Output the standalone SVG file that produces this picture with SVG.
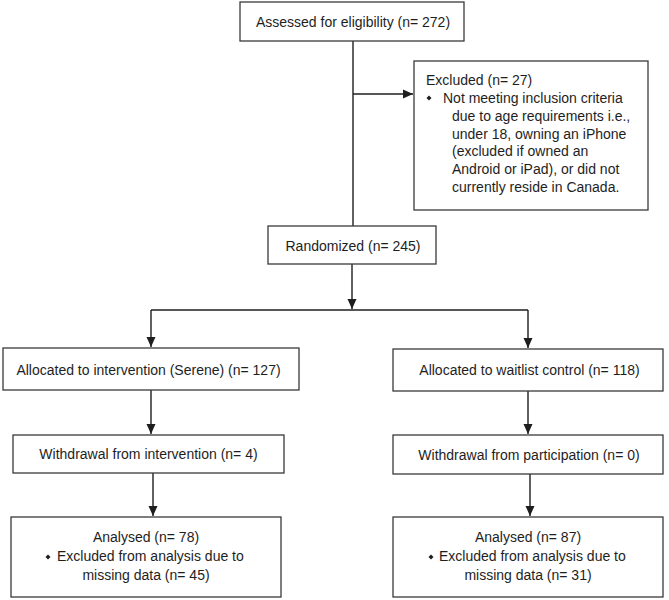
<svg xmlns="http://www.w3.org/2000/svg" width="669" height="600" viewBox="0 0 669 600">
  <style>
    .box { fill: #ffffff; stroke: #3a3a3a; stroke-width: 1.3; }
    .t { font-family: "Liberation Sans", Arial, sans-serif; font-size: 14px; fill: #1e1e1e; }
    .c { text-anchor: middle; }
    .ln { fill: none; stroke: #1e1e1e; stroke-width: 1.4; }
    .bullet { fill: #1e1e1e; }
  </style>
  <defs>
    <marker id="arr" markerUnits="userSpaceOnUse" markerWidth="10" markerHeight="10" viewBox="0 0 10 10" refX="10" refY="5" orient="auto">
      <path d="M0,0.5 L10,5 L0,9.5 Z" fill="#1e1e1e"/>
    </marker>
  </defs>
  <rect width="669" height="600" fill="#ffffff"/>

  <g id="connectors">
    <line class="ln" x1="353" y1="41" x2="353" y2="226"/>
    <line class="ln" x1="353" y1="94" x2="413" y2="94" marker-end="url(#arr)"/>
    <line class="ln" x1="352" y1="264" x2="352" y2="309" marker-end="url(#arr)"/>
    <polyline class="ln" points="151,310 528,310"/>
    <line class="ln" x1="151" y1="310" x2="151" y2="347" marker-end="url(#arr)"/>
    <line class="ln" x1="528" y1="310" x2="528" y2="348" marker-end="url(#arr)"/>
    <line class="ln" x1="151" y1="390" x2="151" y2="434" marker-end="url(#arr)"/>
    <line class="ln" x1="528" y1="391" x2="528" y2="434" marker-end="url(#arr)"/>
    <line class="ln" x1="153" y1="473" x2="153" y2="516" marker-end="url(#arr)"/>
    <line class="ln" x1="530" y1="474" x2="530" y2="516" marker-end="url(#arr)"/>
  </g>

  <g id="assessed">
    <rect class="box" x="240" y="2" width="224" height="39"/>
    <text class="t c" x="353" y="27">Assessed for eligibility (n= 272)</text>
  </g>

  <g id="excluded">
    <rect class="box" x="414" y="61" width="234" height="149"/>
    <text class="t" x="426" y="85">Excluded (n= 27)</text>
    <polygon class="bullet" points="429,95.5 431.5,98 429,100.5 426.5,98"/>
    <text class="t" x="443" y="103">Not meeting inclusion criteria</text>
    <text class="t" x="452" y="121">due to age requirements i.e.,</text>
    <text class="t" x="452" y="139">under 18, owning an iPhone</text>
    <text class="t" x="452" y="156">(excluded if owned an</text>
    <text class="t" x="452" y="174">Android or iPad), or did not</text>
    <text class="t" x="452" y="192">currently reside in Canada.</text>
  </g>

  <g id="randomized">
    <rect class="box" x="268" y="226" width="168" height="38"/>
    <text class="t c" x="353" y="251">Randomized (n= 245)</text>
  </g>

  <g id="alloc-intervention">
    <rect class="box" x="3" y="348" width="296" height="42"/>
    <text class="t c" x="148.5" y="375">Allocated to intervention (Serene) (n= 127)</text>
  </g>

  <g id="alloc-waitlist">
    <rect class="box" x="393" y="349" width="270" height="42"/>
    <text class="t c" x="529.5" y="375">Allocated to waitlist control (n= 118)</text>
  </g>

  <g id="withdrawal-intervention">
    <rect class="box" x="13" y="435" width="271" height="38"/>
    <text class="t c" x="148.5" y="459">Withdrawal from intervention (n= 4)</text>
  </g>

  <g id="withdrawal-participation">
    <rect class="box" x="393" y="435" width="270" height="39"/>
    <text class="t c" x="529" y="460">Withdrawal from participation (n= 0)</text>
  </g>

  <g id="analysed-intervention">
    <rect class="box" x="11" y="517" width="270" height="80"/>
    <text class="t c" x="146" y="542">Analysed (n= 78)</text>
    <polygon class="bullet" points="48,554.5 50.5,557 48,559.5 45.5,557"/>
    <text class="t" x="57" y="561">Excluded from analysis due to</text>
    <text class="t c" x="146" y="580">missing data (n= 45)</text>
  </g>

  <g id="analysed-waitlist">
    <rect class="box" x="393" y="517" width="270" height="80"/>
    <text class="t c" x="528" y="542">Analysed (n= 87)</text>
    <polygon class="bullet" points="431,554.5 433.5,557 431,559.5 428.5,557"/>
    <text class="t" x="439" y="561">Excluded from analysis due to</text>
    <text class="t c" x="528" y="580">missing data (n= 31)</text>
  </g>
</svg>
